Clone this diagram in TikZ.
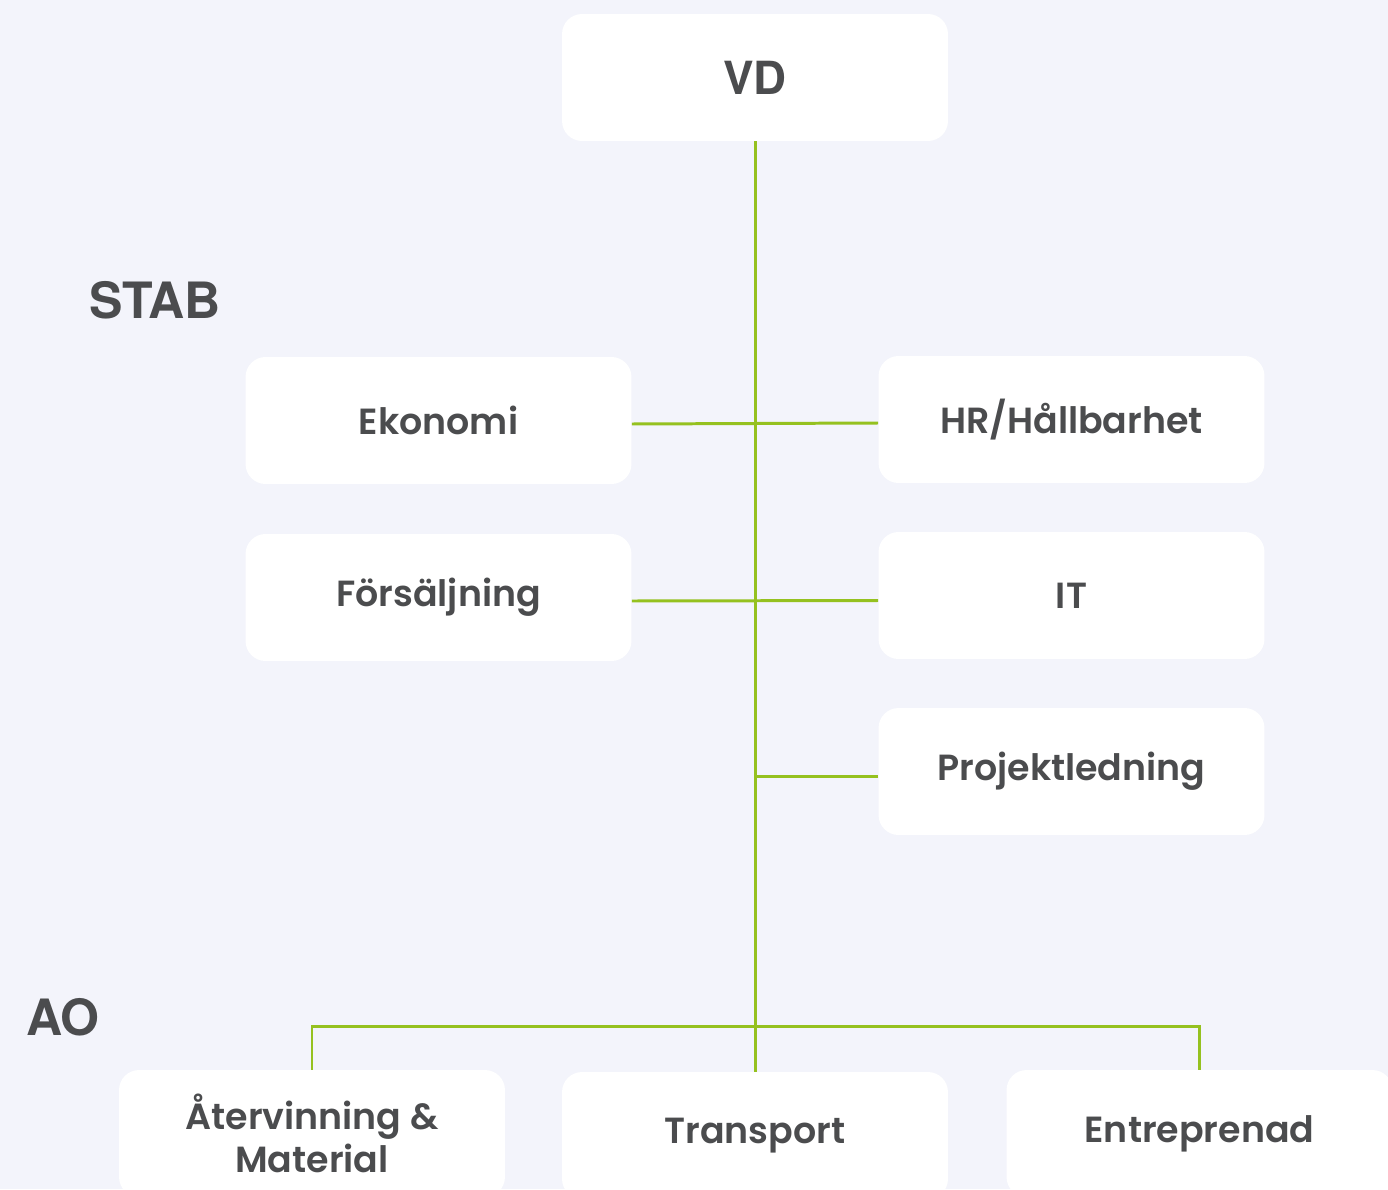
\documentclass[tikz,border=0pt]{standalone}
\usepackage{xcolor}
\usepackage{fontspec}
\setmainfont{Poppins}[BoldFont={* SemiBold}]
\newfontfamily\headfont{TeX Gyre Heros}

\definecolor{bggray}{HTML}{F3F4FB}
\definecolor{textgray}{HTML}{4B4C4E}
\definecolor{linegreen}{HTML}{95C11F}

\tikzset{
  unit/.style={fill=white, rounded corners=0.4cm, minimum width=7.72cm,
    minimum height=2.54cm, text=textgray, align=center,
    font=\fontsize{20.7}{24.5}\selectfont\bfseries},
  head/.style={text=textgray, font=\headfont\fontsize{28.5}{30}\selectfont\bfseries},
  link/.style={draw=linegreen, line width=1.7pt}
}

\begin{document}
\begin{tikzpicture}[x=0.02cm, y=-0.02cm]
  % page
  \fill[bggray] (0,0) rectangle (1388,1189);
  \useasboundingbox (0,0) rectangle (1388,1189);
  \clip (0,0) rectangle (1388,1189);

  % Section titles
  \node[head] (stab) at (155,300) {STAB};
  \node[head] (ao) at (63,1017) {AO};

  % Top
  \node[unit, font=\headfont\fontsize{26}{28}\selectfont\bfseries] (vd) at (755,77.5) {VD};

  % Staff units
  \node[unit] (ekonomi) at (438.5,420.5) {Ekonomi};
  \node[unit] (hr) at (1071.5,419.5) {HR/Hållbarhet};
  \node[unit] (forsaljning) at (438.5,597.5) {Försäljning};
  \node[unit] (it) at (1071.5,595.5) {IT};
  \node[unit] (projekt) at (1071.5,771.5) {Projektledning};

  % Operations
  \node[unit] (atervinning) at (312,1133.5) {Återvinning \&\\Material};
  \node[unit] (transport) at (755,1135.5) {Transport};
  \node[unit] (entreprenad) at (1199.5,1133.5) {Entreprenad};

  % Connectors
  \coordinate (bus) at (755,1026);
  \draw[link] (vd.south) -- (transport.north);
  \draw[link] ([yshift=-0.07cm]ekonomi.east) -- ([yshift=-0.07cm]hr.west);
  \draw[link] ([yshift=-0.07cm]forsaljning.east) -- ([yshift=-0.1cm]it.west);
  \draw[link] ([yshift=-0.09cm]projekt.west) -- ([yshift=-0.09cm]projekt.west -| vd.south);
  \draw[link] (atervinning.north) |- (bus) -| (entreprenad.north);
\end{tikzpicture}
\end{document}
